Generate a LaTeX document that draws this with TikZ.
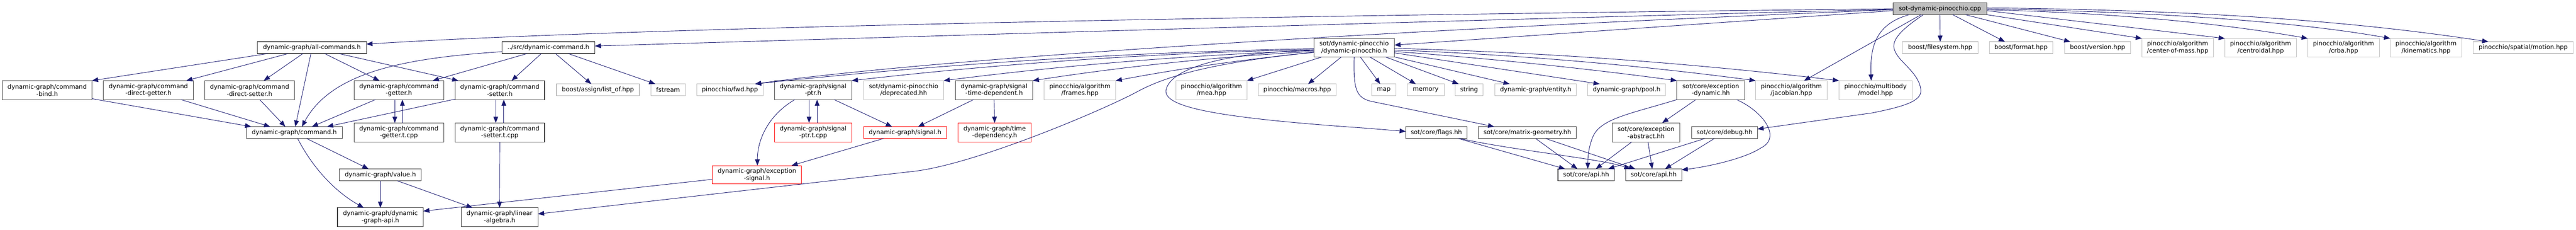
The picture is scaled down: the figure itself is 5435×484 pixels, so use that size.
\documentclass[tikz,border=0pt]{standalone}
\usepackage{fontspec}
\setmainfont{DejaVu Sans}
\usetikzlibrary{arrows.meta}
\definecolor{mblue}{HTML}{191970}
\definecolor{gdark}{HTML}{404040}
\definecolor{glight}{HTML}{BFBFBF}
\definecolor{rborder}{HTML}{FF0000}
\newcommand\mkbox[7]{\node[#6, minimum width={(#4-#2)*1bp}, minimum height={(#5-#3)*1bp}] (#1) at ({(#2+#4)/2},{(#3+#5)/2}) {#7};}
\tikzset{
  docn/.style={draw=gdark, line width=1.2bp, fill=white, align=center, inner sep=0pt, outer sep=0pt, text=black, font=\fontsize{12.95bp}{15bp}\selectfont},
  extn/.style={docn, draw=glight},
  trn/.style={docn, draw=rborder},
  rootn/.style={docn, fill=glight},
  edg/.style={draw=mblue, line width=1bp, -{Triangle[length=13bp,width=10bp]}}
}
\begin{document}
\begin{tikzpicture}[x=1bp,y=-1bp]
\useasboundingbox (0,0) rectangle (5435,484);
% row 0/1
\mkbox{root}{3994}{6}{4192}{31}{rootn}{sot-dynamic-pinocchio.cpp}
\mkbox{allcmd}{543}{88}{773}{113}{docn}{dynamic-graph/all-commands.h}
\mkbox{dyncmd}{1059}{88}{1255}{113}{docn}{../src/dynamic-command.h}
\mkbox{dynpin}{2772}{81}{2942}{120}{docn}{sot/dynamic-pinocchio\\/dynamic-pinocchio.h}
\mkbox{fs}{4014}{88}{4173}{113}{extn}{boost/filesystem.hpp}
\mkbox{fmt}{4197}{88}{4331}{113}{extn}{boost/format.hpp}
\mkbox{ver}{4356}{88}{4495}{113}{extn}{boost/version.hpp}
\mkbox{com}{4519}{81}{4670}{120}{extn}{pinocchio/algorithm\\/center-of-mass.hpp}
\mkbox{centroidal}{4694}{81}{4845}{120}{extn}{pinocchio/algorithm\\/centroidal.hpp}
\mkbox{crba}{4869}{81}{5020}{120}{extn}{pinocchio/algorithm\\/crba.hpp}
\mkbox{kin}{5043}{81}{5194}{120}{extn}{pinocchio/algorithm\\/kinematics.hpp}
\mkbox{motion}{5218}{88}{5429}{113}{extn}{pinocchio/spatial/motion.hpp}
% row 2
\mkbox{bind}{5}{170}{194}{210}{docn}{dynamic-graph/command\\-bind.h}
\mkbox{dget}{218}{170}{408}{210}{docn}{dynamic-graph/command\\-direct-getter.h}
\mkbox{dset}{432}{170}{621}{210}{docn}{dynamic-graph/command\\-direct-setter.h}
\mkbox{getter}{747}{170}{936}{210}{docn}{dynamic-graph/command\\-getter.h}
\mkbox{setter}{960}{170}{1149}{210}{docn}{dynamic-graph/command\\-setter.h}
\mkbox{listof}{1174}{177}{1349}{202}{extn}{boost/assign/list\_of.hpp}
\mkbox{fstream}{1373}{177}{1446}{202}{extn}{fstream}
\mkbox{fwd}{1470}{177}{1610}{202}{extn}{pinocchio/fwd.hpp}
\mkbox{sigptr}{1634}{170}{1797}{210}{docn}{dynamic-graph/signal\\-ptr.h}
\mkbox{depr}{1822}{170}{1991}{210}{extn}{sot/dynamic-pinocchio\\/deprecated.hh}
\mkbox{sigtd}{2016}{170}{2179}{210}{docn}{dynamic-graph/signal\\-time-dependent.h}
\mkbox{frames}{2203}{170}{2354}{210}{extn}{pinocchio/algorithm\\/frames.hpp}
\mkbox{rnea}{2481}{170}{2631}{210}{extn}{pinocchio/algorithm\\/rnea.hpp}
\mkbox{macros}{2655}{177}{2819}{202}{extn}{pinocchio/macros.hpp}
\mkbox{map}{2894}{177}{2945}{202}{extn}{map}
\mkbox{memory}{2969}{177}{3047}{202}{extn}{memory}
\mkbox{string}{3070}{177}{3129}{202}{extn}{string}
\mkbox{entity}{3154}{177}{3326}{202}{extn}{dynamic-graph/entity.h}
\mkbox{pool}{3350}{177}{3514}{202}{extn}{dynamic-graph/pool.h}
\mkbox{excdyn}{3538}{170}{3681}{210}{docn}{sot/core/exception\\-dynamic.hh}
\mkbox{jac}{3704}{170}{3855}{210}{extn}{pinocchio/algorithm\\/jacobian.hpp}
\mkbox{model}{3880}{170}{4034}{210}{extn}{pinocchio/multibody\\/model.hpp}
% row 3
\mkbox{cmd}{520}{267}{722}{292}{docn}{dynamic-graph/command.h}
\mkbox{gettert}{747}{259}{936}{299}{docn}{dynamic-graph/command\\-getter.t.cpp}
\mkbox{settert}{960}{259}{1149}{299}{docn}{dynamic-graph/command\\-setter.t.cpp}
\mkbox{sigptrt}{1634}{259}{1797}{299}{trn}{dynamic-graph/signal\\-ptr.t.cpp}
\mkbox{signal}{1822}{267}{1997}{292}{trn}{dynamic-graph/signal.h}
\mkbox{timedep}{2021}{259}{2176}{299}{trn}{dynamic-graph/time\\-dependency.h}
\mkbox{flags}{2966}{267}{3095}{292}{docn}{sot/core/flags.hh}
\mkbox{matgeo}{3119}{267}{3326}{292}{docn}{sot/core/matrix-geometry.hh}
\mkbox{excabs}{3402}{259}{3544}{299}{docn}{sot/core/exception\\-abstract.hh}
\mkbox{debug}{3569}{267}{3708}{292}{docn}{sot/core/debug.hh}
% row 4
\mkbox{value}{716}{356}{889}{381}{docn}{dynamic-graph/value.h}
\mkbox{excsig}{1503}{349}{1691}{388}{trn}{dynamic-graph/exception\\-signal.h}
\mkbox{apia}{3287}{356}{3406}{381}{docn}{sot/core/api.hh}
\mkbox{apib}{3430}{356}{3548}{381}{docn}{sot/core/api.hh}
% row 5
\mkbox{dgapi}{712}{438}{893}{478}{docn}{dynamic-graph/dynamic\\-graph-api.h}
\mkbox{linalg}{973}{438}{1135}{478}{docn}{dynamic-graph/linear\\-algebra.h}

% ---- edges from root
\draw[edg] (root.west) .. controls (2500,35) and (1300,60) .. ([yshift=7.5bp]allcmd.east);
\draw[edg] ([yshift=-1bp]root.west) .. controls (3000,45) and (2000,75) .. ([yshift=3.5bp]dyncmd.east);
\draw[edg] ([yshift=-2bp]root.west) .. controls (3000,60) and (2000,120) .. ([xshift=53bp]fwd.north);
\draw[edg] ([yshift=-4bp]root.west) -- ([yshift=5.5bp]dynpin.east);
\draw[edg] ([xshift=-65bp]root.south) .. controls (3960,50) and (3945,95) .. ([xshift=-9bp]model.north);
\draw[edg] ([xshift=-40bp]root.south) -- ([xshift=27bp]jac.north);
\draw[edg] ([xshift=-35bp]root.south) .. controls (4010,63) and (3990,85) .. (3997,105) .. controls (4005,130) and (4045,150) .. (4052,185) .. controls (4058,210) and (4030,222) .. (3950,238) -- ([yshift=7.5bp]debug.east);
\draw[edg] (root.south) -- (fs.north);
\draw[edg] ([xshift=27bp]root.south) -- ([xshift=-34bp]fmt.north);
\draw[edg] ([xshift=54bp]root.south) -- ([xshift=12bp]ver.north west);
\draw[edg] (root.south east) -- (com.north west);
\draw[edg] ([yshift=-4bp]root.east) -- (centroidal.north west);
\draw[edg] ([yshift=-2bp]root.east) .. controls (4500,28) and (4720,55) .. (crba.north west);
\draw[edg] (root.east) .. controls (4600,26) and (4870,50) .. (kin.north west);
\draw[edg] ([yshift=2bp]root.east) .. controls (4700,22) and (5000,50) .. ([xshift=32bp]motion.north west);

% ---- edges from dynamic-pinocchio.h
\draw[edg] ([yshift=-2bp]dynpin.west) .. controls (2379,110) and (1986,135) .. ([xshift=53bp]fwd.north);
\draw[edg] ([yshift=-4bp]dynpin.west) .. controls (2447,111) and (2122,133) .. (sigptr.north east);
\draw[edg] ([yshift=-6bp]dynpin.west) .. controls (2512,116) and (2251,137) .. (depr.north east);
\draw[edg] ([yshift=-8bp]dynpin.west) .. controls (2574,119) and (2377,139.5) .. (sigtd.north east);
\draw[edg] ([yshift=-10bp]dynpin.west) .. controls (2633,124) and (2493,144) .. (frames.north east);
\draw[edg] ([xshift=-68bp]dynpin.south) -- (rnea.north east);
\draw[edg] ([xshift=-27bp]dynpin.south) -- ([xshift=23bp]macros.north);
\draw[edg] ([yshift=-9.5bp]dynpin.west) .. controls (2580,130) and (2470,155) .. (2400,193) .. controls (2330,231) and (2050,350) .. (1920,362) -- ([yshift=7bp]linalg.east);
\draw[edg] ([yshift=-5bp]dynpin.west) .. controls (2600,110) and (2470,140) .. (2460,190) .. controls (2455,225) and (2560,248) .. (2880,270) -- ([yshift=2.5bp]flags.west);
\draw[edg] (dynpin.south) .. controls (2855,190) and (2862,207) .. (2895,214) -- ([xshift=-70bp]matgeo.north);
\draw[edg] ([xshift=13bp]dynpin.south) -- ([xshift=-7.5bp]map.north);
\draw[edg] ([xshift=33bp]dynpin.south) -- ([xshift=-21bp]memory.north);
\draw[edg] ([xshift=66bp]dynpin.south) -- ([xshift=-22bp]string.north);
\draw[edg] (dynpin.south east) -- ([xshift=-55bp]entity.north);
\draw[edg] ([yshift=-11bp]dynpin.east) -- ([xshift=25bp]pool.north west);
\draw[edg] ([yshift=-8bp]dynpin.east) .. controls (3141,123) and (3340,143.5) .. (excdyn.north west);
\draw[edg] ([yshift=-5bp]dynpin.east) .. controls (3196,115) and (3450,136.5) .. (jac.north west);
\draw[edg] ([yshift=-1.5bp]dynpin.east) .. controls (3255,110) and (3567,133) .. (model.north west);

% ---- all-commands.h
\draw[edg] ([xshift=-93bp]allcmd.south) -- (bind.north east);
\draw[edg] ([xshift=-50bp]allcmd.south) -- ([xshift=80bp]dget.north);
\draw[edg] ([xshift=-19bp]allcmd.south) -- ([xshift=30bp]dset.north);
\draw[edg] ([xshift=-2bp]allcmd.south) -- ([xshift=2bp]cmd.north);
\draw[edg] ([xshift=27bp]allcmd.south) -- ([xshift=-41bp]getter.north);
\draw[edg] ([xshift=57bp]allcmd.south) -- ([xshift=7bp]setter.north west);

% ---- dynamic-command.h
\draw[edg] ([yshift=-8.5bp]dyncmd.west) .. controls (860,122) and (700,150) .. ([xshift=16bp]cmd.north);
\draw[edg] ([xshift=-45bp]dyncmd.south) -- ([xshift=-23bp]getter.north east);
\draw[edg] ([xshift=-15bp]dyncmd.south) -- ([xshift=25bp]setter.north);
\draw[edg] ([xshift=15bp]dyncmd.south) -- ([xshift=-14bp]listof.north);
\draw[edg] ([xshift=42bp]dyncmd.south) -- ([xshift=-27bp]fstream.north);

% ---- command headers to command.h
\draw[edg] ([yshift=2bp]bind.south east) -- ([xshift=10bp]cmd.north west);
\draw[edg] ([xshift=69bp]dget.south) -- ([xshift=50bp]cmd.north west);
\draw[edg] ([xshift=21.5bp]dset.south) -- ([xshift=-19bp]cmd.north);
\draw[edg] ([xshift=-49.5bp]getter.south) -- ([xshift=37bp]cmd.north);
\draw[edg] ([yshift=1bp]setter.south west) -- ([xshift=69bp]cmd.north);

% ---- template pairs
\draw[edg] ([xshift=-8.5bp]getter.south) -- ([xshift=-8.5bp]gettert.north);
\draw[edg] ([xshift=7.5bp]gettert.north) -- ([xshift=7.5bp]getter.south);
\draw[edg] ([xshift=-8.5bp]setter.south) -- ([xshift=-8.5bp]settert.north);
\draw[edg] ([xshift=8.5bp]settert.north) -- ([xshift=8.5bp]setter.south);
\draw[edg] ([xshift=-8.5bp]sigptr.south) -- ([xshift=-8.5bp]sigptrt.north);
\draw[edg] ([xshift=8.5bp]sigptrt.north) -- ([xshift=8.5bp]sigptr.south);
\draw[edg] (settert.south) -- (linalg.north);

% ---- command.h / value.h
\draw[edg] ([xshift=26bp]cmd.south) -- ([xshift=-25bp]value.north);
\draw[edg] ([xshift=7bp]cmd.south) .. controls (655,345) and (700,400) .. ([xshift=-35bp]dgapi.north);
\draw[edg] (value.south) -- (dgapi.north);
\draw[edg] ([xshift=35.5bp]value.south) -- ([xshift=24bp]linalg.north west);
\draw[edg] ([yshift=-9.5bp]excsig.west) -- ([yshift=13bp]dgapi.east);

% ---- signals
\draw[edg] ([xshift=-38.5bp]sigptr.south) .. controls (1625,240) and (1598,290) .. ([xshift=1bp]excsig.north);
\draw[edg] ([xshift=44.5bp]sigptr.south) -- ([xshift=-27.5bp]signal.north);
\draw[edg] ([xshift=-45.5bp]signal.south) -- ([xshift=73bp]excsig.north);
\draw[edg] ([xshift=-43.5bp]sigtd.south) -- ([xshift=27.5bp]signal.north);
\draw[edg] (sigtd.south) -- (timedep.north);

% ---- sot core
\draw[edg] ([xshift=-31.5bp]excdyn.south) -- ([xshift=34bp]excabs.north);
\draw[edg] (excdyn.south west) .. controls (3440,240) and (3375,250) .. (3360,290) .. controls (3352,310) and (3350,330) .. ([xshift=3.5bp]apia.north);
\draw[edg] ([xshift=54.5bp]excdyn.south) .. controls (3720,235) and (3760,290) .. (3715,312) .. controls (3680,335) and (3600,352) .. ([yshift=10.5bp]apib.east);
\draw[edg] ([xshift=46.5bp]flags.south) -- ([xshift=15bp]apia.north west);
\draw[edg] ([xshift=49.5bp]flags.south) .. controls (3200,318) and (3380,335) .. ([xshift=10bp]apib.north west);
\draw[edg] ([xshift=17.5bp]matgeo.south) -- ([xshift=-18.5bp]apia.north);
\draw[edg] ([xshift=38.5bp]matgeo.south) -- ([xshift=20bp]apib.north west);
\draw[edg] ([xshift=-30bp]excabs.south) -- ([xshift=-39bp]apia.north east);
\draw[edg] ([xshift=4bp]excabs.south) -- ([xshift=-3bp]apib.north);
\draw[edg] ([xshift=-41.5bp]debug.south) -- ([xshift=-13bp]apia.north east);
\draw[edg] ([xshift=-21.5bp]debug.south) -- ([xshift=24bp]apib.north);
\end{tikzpicture}
\end{document}
